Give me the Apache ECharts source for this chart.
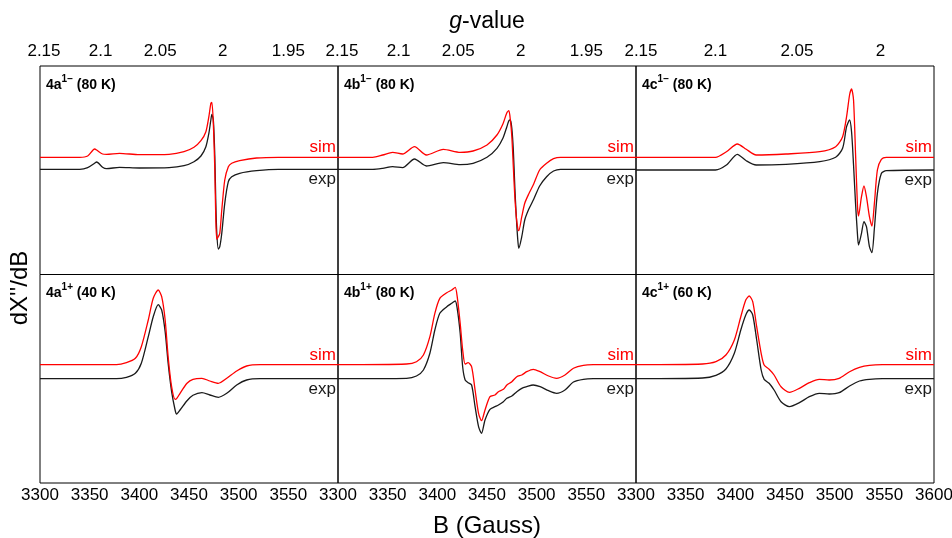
<!DOCTYPE html>
<html><head><meta charset="utf-8">
<script src="https://cdn.jsdelivr.net/npm/echarts@6/dist/echarts.min.js"></script>
<style>html,body{margin:0;padding:0;background:#fff}#c{width:952px;height:538px}</style>
</head><body><div id="c"></div>
<script>
// ---------- DATA ----------
// Magnetic field axis ticks (Gauss)
const bTicks = [3300, 3350, 3400, 3450, 3500, 3550, 3600];
// g-value tick labels and the field positions where they sit on the top axis
const gLabelsAB = ['2.15', '2.1', '2.05', '2', '1.95'];
const gFieldAB  = [3304, 3361, 3421, 3484, 3550];
const gLabelsC  = ['2.15', '2.1', '2.05', '2'];
const gFieldC   = [3305, 3380, 3462, 3546];

// 4a1- (80 K)
const B_4aM   = [3300, 3340, 3348, 3355, 3357, 3363, 3367, 3380, 3400, 3430, 3445, 3455, 3462, 3467, 3470, 3472, 3473, 3474.5, 3476, 3477, 3478, 3479.5, 3481, 3483, 3486, 3489.6, 3493, 3501, 3518, 3540, 3600];
const sim_4aM = [117.2, 117.2, 118.5, 125.5, 124.5, 120.5, 120.2, 121.2, 119.8, 120.2, 122.8, 127.2, 133.8, 142.8, 157.8, 171.2, 172.2, 151.2, 104.5, 54.5, 35.2, 37.8, 41.2, 64.5, 94.5, 107.8, 111.2, 113.8, 116.5, 117.2, 117.2];
const exp_4aM = [105.2, 105.2, 106.8, 111.2, 112.5, 107.2, 105.8, 107.2, 106.5, 106.8, 108.8, 112.8, 118.5, 127.8, 141.2, 154.5, 160.2, 154.5, 117.8, 71.2, 41.2, 25.5, 27.8, 41.2, 71.2, 92.8, 97.8, 101.2, 103.8, 105.2, 105.2];

// 4b1- (80 K)
const B_4bM   = [3300, 3335, 3345, 3355, 3365, 3377, 3389, 3406, 3423, 3436, 3450, 3460, 3466, 3470, 3472, 3473.5, 3475, 3476.5, 3478, 3479.5, 3481, 3482, 3485, 3488, 3492, 3497, 3503, 3510, 3517, 3524, 3560, 3600];
const sim_4bM = [117.2, 117.2, 119.5, 122.2, 120.5, 127.8, 119.5, 125.2, 122.2, 123.5, 129.5, 139.5, 150.5, 161.8, 163.8, 154.5, 137.8, 107.8, 77.8, 57.8, 46.2, 43.8, 57.8, 71.2, 80.5, 90.5, 104.5, 111.2, 115.8, 117.2, 117.2, 117.2];
const exp_4bM = [105.2, 105.2, 106.2, 107.8, 106.8, 115.5, 108.5, 111.8, 109.8, 111.2, 117.2, 126.2, 136.2, 147.8, 153.8, 154.5, 146.2, 124.5, 87.8, 57.8, 34.5, 26.2, 37.8, 54.5, 65.2, 75.2, 88.5, 97.8, 103.5, 105.2, 105.2, 105.2];

// 4c1- (80 K)
const B_4cM   = [3300, 3380, 3391, 3402, 3411, 3421, 3451, 3485, 3501, 3508, 3512, 3515, 3517, 3519, 3521, 3523, 3524, 3527, 3529.5, 3532, 3535, 3537.5, 3540, 3543, 3547, 3552, 3600];
const sim_4cM = [117.2, 117.2, 122.8, 130.5, 125.2, 119.5, 120.5, 122.8, 127.8, 137.8, 157.8, 179.5, 185.5, 174.5, 121.2, 67.8, 58.5, 77.8, 88.5, 77.8, 57.8, 48.5, 71.2, 104.5, 115.2, 117.2, 117.2];
const exp_4cM = [104.5, 104.5, 109.5, 120.2, 113.8, 109.5, 110.2, 112.8, 117.2, 126.2, 147.8, 154.5, 142.8, 109.5, 71.2, 39.5, 29.5, 41.2, 52.8, 47.8, 27.8, 21.8, 46.2, 81.2, 101.0, 103.8, 104.5];

// 4a1+ (40 K)
const B_4aP   = [3300, 3377, 3387, 3396, 3402, 3409, 3414, 3419, 3422.5, 3426, 3429, 3432.5, 3436, 3437.5, 3441, 3448, 3454, 3463, 3471, 3479.5, 3488, 3498, 3508, 3521.5, 3600];
const sim_4aP = [118.3, 118.3, 120.3, 124.7, 136.3, 163, 184.7, 193, 186.3, 163, 126.3, 96.3, 83.7, 84.3, 89.7, 99.7, 103.7, 104.7, 102, 99.7, 104.7, 112, 117, 118.3, 118.3];
const exp_4aP = [104.3, 104.3, 105.7, 109.7, 119.7, 146.3, 166.3, 178.3, 173, 151.3, 119.7, 91.3, 73, 69, 73, 82.3, 87.7, 90.3, 88, 85.7, 89.7, 98, 103, 104.3, 104.3];

// 4b1+ (80 K)
const B_4bP   = [3300, 3369, 3379, 3386, 3392.5, 3397.5, 3402.5, 3409.5, 3414.5, 3418, 3420, 3423, 3425.5, 3428, 3431, 3434.5, 3438, 3441.5, 3444.5, 3448, 3453, 3458, 3461.5, 3466.5, 3470, 3475, 3480, 3485, 3490, 3496.5, 3503.5, 3512, 3520, 3528.5, 3537, 3547, 3557, 3600];
const sim_4bP = [118.3, 119, 121.3, 128, 146.3, 169.7, 184.7, 190.3, 193, 195.7, 186.3, 159.7, 133, 119, 120.3, 116.3, 93, 69.7, 62.3, 73, 86.3, 88, 91.3, 93.7, 98, 101.3, 106.3, 108, 111.3, 113.7, 111.3, 107, 104.7, 108, 114.7, 117.7, 118.3, 118.3];
const exp_4bP = [104.3, 104.7, 107, 113, 129.7, 153, 169.7, 176.3, 179.7, 182, 174.7, 149.7, 116.3, 103, 100.3, 98, 76.3, 56.3, 49.7, 63, 73.7, 76.3, 78, 81.3, 84.7, 87, 91.3, 94.7, 96.3, 98, 96.3, 92.3, 89.7, 93, 101, 103.7, 104.3, 104.3];

// 4c1+ (60 K)
const B_4cP   = [3300, 3367, 3380.5, 3390.5, 3399, 3405.5, 3410.5, 3414, 3417.5, 3421.5, 3426, 3429, 3434, 3439, 3446, 3454.5, 3464.5, 3474.5, 3484.5, 3494.5, 3504.5, 3515, 3525, 3535, 3548, 3600];
const sim_4cP = [118.3, 119, 121.3, 128, 143, 166.3, 183, 187, 181.3, 156.3, 129.7, 118, 113.7, 108, 96.3, 90.7, 94.7, 100.3, 103.7, 103, 104.7, 111.3, 115.7, 117.7, 118.3, 118.3];
const exp_4cP = [104.3, 105, 107.7, 114, 129.7, 153, 168, 173, 168, 143, 113, 103.7, 99.7, 93, 81.3, 76.3, 80.3, 86.3, 89.7, 89, 90.3, 97, 102, 103.7, 104.3, 104.3];

const panelNames = ['4a', '4b', '4c', '4a', '4b', '4c'];
const panelSups  = ['1\u2212', '1\u2212', '1\u2212', '1+', '1+', '1+'];
const panelTemps = ['(80 K)', '(80 K)', '(80 K)', '(40 K)', '(80 K)', '(60 K)'];

// ---------- LAYOUT ----------
const FONT = '"Liberation Sans", Arial, Helvetica, sans-serif';
const colLeft = [40, 338, 636], colW = 298;
const rowTop = [66, 274.5], rowH = 208.5;

const panels = [
  {B: B_4aM, sim: sim_4aM, exp: exp_4aM},
  {B: B_4bM, sim: sim_4bM, exp: exp_4bM},
  {B: B_4cM, sim: sim_4cM, exp: exp_4cM},
  {B: B_4aP, sim: sim_4aP, exp: exp_4aP},
  {B: B_4bP, sim: sim_4bP, exp: exp_4bP},
  {B: B_4cP, sim: sim_4cP, exp: exp_4cP}
];

const grid = [], xAxis = [], yAxis = [], series = [], title = [];
let xi = 0;
panels.forEach((p, i) => {
  const r = Math.floor(i / 3), c = i % 3;
  grid.push({left: colLeft[c], top: rowTop[r], width: colW, height: rowH,
    show: true, borderColor: '#000', borderWidth: 1, backgroundColor: 'transparent',
    containLabel: false, outerBoundsMode: 'none'});
  yAxis.push({gridIndex: i, type: 'value', min: 0, max: 208.5, show: false});
  const bottomIdx = xi++;
  xAxis.push({gridIndex: i, type: 'value', position: 'bottom', min: bTicks[0], max: bTicks[bTicks.length - 1], interval: 50,
    axisLine: {show: false}, axisTick: {show: false}, splitLine: {show: false},
    axisLabel: {show: r === 1, showMaxLabel: c === 2, showMinLabel: true, hideOverlap: false, fontSize: 17, color: '#000', fontFamily: FONT, margin: 4,
      formatter: v => String(v)}});
  if (r === 0) {
    const labs = c === 2 ? gLabelsC : gLabelsAB;
    const pos = c === 2 ? gFieldC : gFieldAB;
    xAxis.push({gridIndex: i, type: 'value', position: 'top', min: bTicks[0], max: bTicks[bTicks.length - 1],
      axisLine: {show: false}, axisTick: {show: false}, splitLine: {show: false},
      axisLabel: {show: true, customValues: pos, fontSize: 17, color: '#000', fontFamily: FONT, margin: 6,
        formatter: v => { let k = 0, d = 1e9; pos.forEach((q, j) => { if (Math.abs(q - v) < d) { d = Math.abs(q - v); k = j; } }); return labs[k]; }}});
    xi++;
  }
  const mk = (vals, name, color, above) => ({
    type: 'line', name: name, xAxisIndex: bottomIdx, yAxisIndex: i,
    data: p.B.map((b, j) => [b, vals[j]]),
    showSymbol: false, smooth: 0.25, silent: true, animation: false,
    lineStyle: {color: color, width: 1.3}, itemStyle: {color: color},
    endLabel: {show: true, formatter: name, color: color, fontSize: 17, fontFamily: FONT,
      align: 'right', verticalAlign: above ? 'bottom' : 'top', distance: 0, offset: above ? [-2, -1] : [-2, 2]}
  });
  series.push(mk(p.exp, 'exp', '#1a1a1a', false));
  series.push(mk(p.sim, 'sim', '#ff0000', true));
  title.push({text: '{b|' + panelNames[i] + '}{s|' + panelSups[i] + '}{b| ' + panelTemps[i] + '}',
    left: colLeft[c] + 6, top: rowTop[r] + 8, padding: 0,
    textStyle: {rich: {
      b: {fontSize: 14, fontWeight: 'bold', fontFamily: FONT, color: '#000', lineHeight: 18, verticalAlign: 'bottom'},
      s: {fontSize: 10, fontWeight: 'bold', fontFamily: FONT, color: '#000', lineHeight: 18, verticalAlign: 'top', padding: [0, 0, 8, 0]}
    }}});
});

const chart = echarts.init(document.getElementById('c'), null, {renderer: 'canvas'});
chart.setOption({
  animation: false,
  backgroundColor: '#fff',
  title: title,
  grid: grid, xAxis: xAxis, yAxis: yAxis, series: series,
  graphic: [
    {type: 'text', x: 487, y: 22, style: {text: '{i|g}{n|-value}', align: 'center', verticalAlign: 'middle',
      rich: {i: {fontStyle: 'italic', fontSize: 23, fontFamily: FONT, fill: '#000'}, n: {fontSize: 23, fontFamily: FONT, fill: '#000'}}}},
    {type: 'text', x: 487, y: 526, style: {text: 'B (Gauss)', align: 'center', verticalAlign: 'middle', font: '24px ' + FONT, fill: '#000'}},
    {type: 'text', x: 20, y: 288, rotation: Math.PI / 2, style: {text: "dX''/dB", align: 'center', verticalAlign: 'middle', font: '24px ' + FONT, fill: '#000'}}
  ]
});
</script></body></html>
